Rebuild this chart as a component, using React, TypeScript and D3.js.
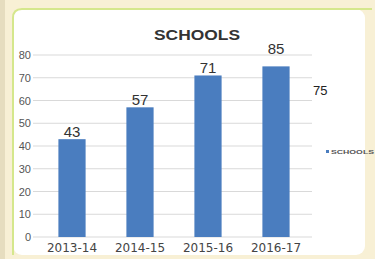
import React from "react";
import * as d3 from "d3";

const categories = ["2013-14", "2014-15", "2015-16", "2016-17"];
const values = [43, 57, 71, 75];
const dataLabels = ["43", "57", "71", "85"];
const yTicks = [0, 10, 20, 30, 40, 50, 60, 70, 80];
const strayLabel = "75";
const seriesName = "SCHOOLS";
const title = "SCHOOLS";

export default function App() {
  const W = 375, H = 259;
  const x = d3.scaleBand<string>().domain(categories).range([38, 310]).paddingInner(0.6).paddingOuter(0.3);
  const y = d3.scaleLinear().domain([0, 80]).range([237, 55]);
  const barColor = "#4a7dbf";
  return (
    <svg width={W} height={H} style={{ position: "fixed", left: 0, top: 0 }} fontFamily="'Liberation Sans', Arial, sans-serif">
      <rect x={0} y={0} width={W} height={H} fill="#f8f0d5" />
      <rect x={0} y={0} width={5} height={H} fill="#e6ddbf" />
      <rect x={13} y={9} width={352} height={246} rx={9} fill="#ffffff" />
      <path d="M13,255 L13,18 Q13,9 22,9 L372,9" fill="none" stroke="#d5e78c" strokeWidth={2} />
      <text x={197} y={40} textAnchor="middle" fontWeight="bold" fontSize={15} fill="#333" textLength={86} lengthAdjust="spacingAndGlyphs">{title}</text>
      {yTicks.map((t) => (
        <g key={t}>
          <line x1={33} x2={312} y1={y(t)} y2={y(t)} stroke="#d9d9d9" strokeWidth={1} />
          <text x={31} y={y(t) + 4} textAnchor="end" fontSize={11} fill="#555">{t}</text>
        </g>
      ))}
      {categories.map((c, i) => (
        <g key={c}>
          <rect x={x(c)} y={y(values[i])} width={x.bandwidth()} height={y(0) - y(values[i])} fill={barColor} />
          <text x={(x(c) as number) + x.bandwidth() / 2} y={252} textAnchor="middle" fontSize={12} fill="#444" fontFamily="'DejaVu Sans', sans-serif">{c}</text>
        </g>
      ))}
      {categories.map((c, i) => {
        const cx = (x(c) as number) + x.bandwidth() / 2;
        const ty = i === 3 ? y(85) + 10 : y(values[i]) - 2;
        return (
          <text key={"l" + c} x={cx} y={ty} textAnchor="middle" fontSize={15} fill="#333">{dataLabels[i]}</text>
        );
      })}
      <text x={313} y={95} fontSize={13} fill="#222">{strayLabel}</text>
      <rect x={326} y={150} width={3} height={3} fill={barColor} />
      <text x={331} y={154} fontSize={5.5} fill="#555" fontWeight="bold" textLength={43} lengthAdjust="spacingAndGlyphs">{seriesName}</text>
    </svg>
  );
}
